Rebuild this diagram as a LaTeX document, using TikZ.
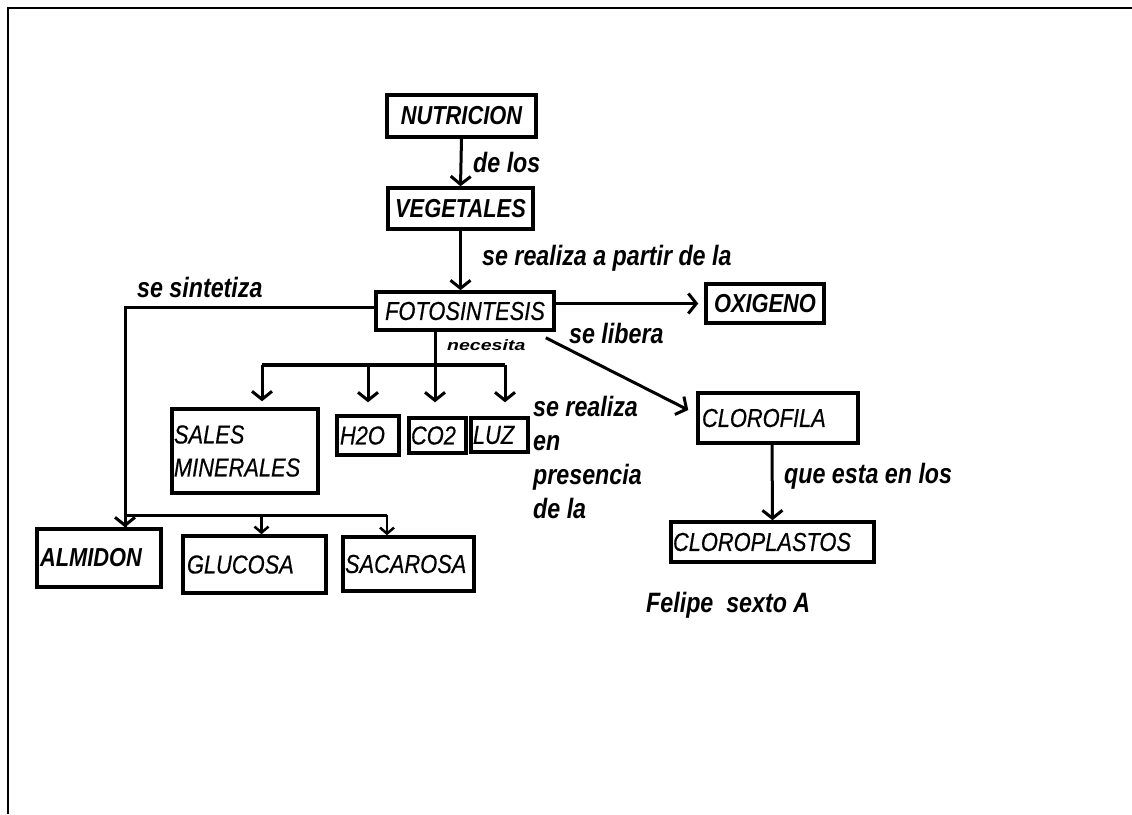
\documentclass[tikz,border=0pt]{standalone}
\usepackage{fontspec}
\setmainfont{Liberation Sans}[FakeStretch=0.84]
\newfontfamily\regfont{Liberation Sans}[FakeStretch=0.84,FakeBold=0.4]
\newfontfamily\lblfont{Liberation Sans}[FakeStretch=0.83]
\usetikzlibrary{arrows.meta,calc}
\begin{document}
\begin{tikzpicture}[x=1pt,y=-1pt,
  box/.style={draw,line width=3.5pt,rectangle,inner xsep=2pt,inner ysep=0pt,
    font=\regfont\fontsize{26}{33}\selectfont\itshape},
  bbox/.style={box,font=\fontsize{26}{33}\selectfont\bfseries\itshape},
  lbl/.style={font=\lblfont\fontsize{28}{34}\selectfont\bfseries\itshape,inner sep=0pt,anchor=base west},
  arr/.style={line width=3pt,-{Straight Barb[length=8pt,width=20pt,line width=3pt]}},
  arrsm/.style={line width=2.8pt,-{Straight Barb[length=6pt,width=14pt,line width=2.5pt]}},
  ln/.style={line width=3pt},
  frame/.style={line width=2pt}
]
\useasboundingbox (0,0) rectangle (1132,814);
\fill[white] (0,0) rectangle (1132,814);
\draw[frame] (8,814) -- (8,8) -- (1132,8);

% boxes
\node[bbox,minimum width=149,minimum height=42,align=center] (nut) at (461.5,116) {NUTRICION};
\node[bbox,minimum width=145,minimum height=41,align=center] (veg) at (460.5,208.5) {VEGETALES};
\node[box,minimum width=178,minimum height=38,align=center] (foto) at (465,311) {FOTOSINTESIS};
\node[bbox,minimum width=118,minimum height=39,align=center] (oxi) at (765,303.5) {OXIGENO};
\node[box,text width=152,minimum height=50,align=left,inner xsep=4pt] (clor) at (778,418) {CLOROFILA};
\node[box,text width=199,minimum height=40,align=left] (clp) at (772.5,542) {CLOROPLASTOS};
\node[box,text width=142,minimum height=84,align=left,inner xsep=2pt] (sales) at (245,451) {SALES\\MINERALES};
\node[box,text width=56,minimum height=39,align=left,inner xsep=3pt] (h2o) at (368,435.5) {H2O};
\node[box,text width=53,minimum height=35,align=left] (co2) at (437.5,435.5) {CO2};
\node[box,text width=53,minimum height=34,align=left] (luz) at (499.5,435) {LUZ};
\node[bbox,text width=118,minimum height=58,align=left,inner xsep=3pt] (alm) at (99,558) {ALMIDON};
\node[box,text width=135,minimum height=57,align=left,inner xsep=4pt] (glu) at (254.5,564.5) {GLUCOSA};
\node[box,text width=127,minimum height=54,align=left] (sac) at (408.5,564) {SACAROSA};

% labels
\node[lbl] (l1) at (473,172) {de los};
\node[lbl] (l2) at (482,265) {se realiza a partir de la};
\node[lbl] (l3) at (137,297) {se sintetiza};
\node[lbl] (l4) at (569,343) {se libera};
\node[lbl,font=\fontsize{15}{15}\selectfont\bfseries\itshape] (l5) at (447,350) {\scalebox{1.55}[1]{necesita}};
\node[lbl,align=left,anchor=north west] (l6) at (533,396) {se realiza\\en\\presencia\\de la};
\node[lbl] (l7) at (784,483) {que esta en los};
\node[lbl] (l8) at (646,612) {Felipe\ \ sexto A};

% connectors
\draw[arr] (nut.south) -- (veg.north);
\draw[arr] (veg.south) -- (veg.south |- foto.north);
\draw[arr] (foto.east |- oxi.west) -- ([xshift=-6pt]oxi.west);
\draw[arr] ([xshift=-10pt,yshift=-6pt]foto.south east) -- ([xshift=-8pt,yshift=8pt]clor.west);
\draw[arr] ([xshift=-6pt]clor.south) -- (clp.north);

% necesita branch
\coordinate (b0) at (435,365);
\coordinate (bl) at (262,365);
\coordinate (br) at (505,365);
\draw[ln] ([xshift=-30pt]foto.south) -- (b0);
\draw[line width=4.5pt] (bl) -- (br);
\draw[arr,shorten >=6pt] (bl) -- ([xshift=17pt]sales.north);
\draw[arr,shorten >=12pt] (bl -| h2o.north) -- (h2o.north);
\draw[arr,shorten >=14pt] (b0) -- (b0 |- co2.north);
\draw[arr,shorten >=14pt] (br) -- (br |- luz.north);

% se sintetiza branch
\coordinate (j1) at (125,515);
\coordinate (j2) at (387,515);
\draw[ln] ([yshift=4pt]foto.west) -| ([xshift=26pt]alm.north);
\draw[arr] (j1) -- ([xshift=26pt]alm.north);
\draw[ln] (j1) -- (j2);
\draw[arrsm] ([xshift=7pt]j1 -| glu.north) -- ([xshift=7pt]glu.north);
\draw[arrsm] (j2) -- (j2 |- sac.north);
\end{tikzpicture}
\end{document}
